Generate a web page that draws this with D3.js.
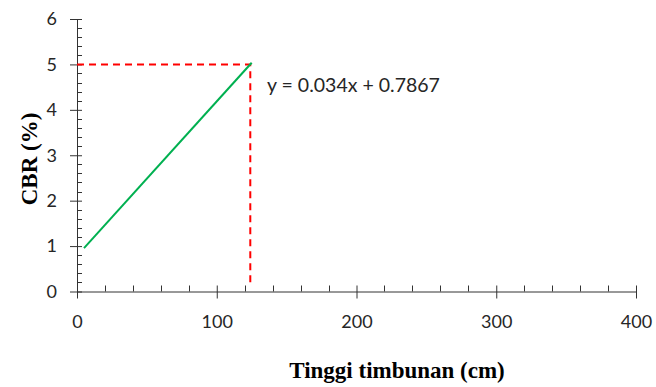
<!DOCTYPE html>
<html>
<head>
<meta charset="utf-8">
<script src="https://cdn.jsdelivr.net/npm/d3@7"></script>
<style>
  body { margin: 0; background: #fff; }
  .tick text { font-family: Lato, "Open Sans", sans-serif; font-size: 18px; fill: #262626; }
</style>
</head>
<body>
<div id="chart"></div>
<script>
// trendline endpoints (x = tinggi timbunan, y = CBR)
var lineX = [5, 125];
var slope = 0.034, intercept = 0.7867;
var targetCBR = 5;
var targetX = 124;
var xTicks = [0, 100, 200, 300, 400];
var yTicks = [0, 1, 2, 3, 4, 5, 6];
var eqLabel = "y = 0.034x + 0.7867";

var width = 656, height = 387;
var margin = {top: 19, left: 77, right: 20, bottom: 95};

var svg = d3.select("#chart").append("svg")
    .attr("width", width)
    .attr("height", height);

var x = d3.scaleLinear().domain([0, 400]).range([margin.left, 636]);
var y = d3.scaleLinear().domain([0, 6]).range([291.5, margin.top]);

// minor ticks
var xMinor = d3.range(0, 401, 20).filter(function(d){ return d % 100 !== 0; });
var yMinor = d3.range(0, 6.01, 0.2).filter(function(d){ return Math.abs(d - Math.round(d)) > 0.01; });

svg.append("g")
    .selectAll("line")
    .data(xMinor)
    .enter().append("line")
    .attr("x1", function(d){ return Math.round(x(d)) + 0.5; })
    .attr("x2", function(d){ return Math.round(x(d)) + 0.5; })
    .attr("y1", y(0) - 6)
    .attr("y2", y(0))
    .attr("stroke", "#333");

svg.append("g")
    .selectAll("line")
    .data(yMinor)
    .enter().append("line")
    .attr("y1", function(d){ return Math.round(y(d)) + 0.5; })
    .attr("y2", function(d){ return Math.round(y(d)) + 0.5; })
    .attr("x1", x(0))
    .attr("x2", x(0) + 5)
    .attr("stroke", "#333");

// x axis: major ticks cross the line
var xAxis = svg.append("g")
    .attr("transform", "translate(0," + y(0) + ")")
    .call(d3.axisBottom(x).tickValues(xTicks).tickFormat(d3.format("d")).tickSize(7).tickSizeOuter(0).tickPadding(17));
xAxis.selectAll(".tick line").attr("y1", -6).attr("stroke", "#333");
xAxis.select(".domain").attr("stroke", "#333");

var yAxis = svg.append("g")
    .attr("transform", "translate(" + x(0) + ",0)")
    .call(d3.axisLeft(y).tickValues(yTicks).tickFormat(d3.format("d")).tickSize(7).tickSizeOuter(0).tickPadding(13));
yAxis.selectAll(".tick line").attr("x1", 5).attr("stroke", "#333");
yAxis.select(".domain").attr("stroke", "#333");
yAxis.select(".domain").attr("d", "M0.5," + y(6) + "V" + y(0));

// red dashed guide lines
svg.append("path")
    .attr("d", d3.line()([[x(0), y(targetCBR)], [x(targetX), y(targetCBR)], [x(targetX), y(0) - 6]]))
    .attr("fill", "none")
    .attr("stroke", "#ff0000")
    .attr("stroke-width", 2)
    .attr("stroke-dasharray", "7,5");

// green trendline
svg.append("path")
    .datum(lineX)
    .attr("d", d3.line()
        .x(function(d){ return x(d); })
        .y(function(d){ return y(slope * d + intercept); }))
    .attr("fill", "none")
    .attr("stroke", "#00b050")
    .attr("stroke-width", 2);

svg.append("text")
    .attr("x", 267)
    .attr("y", 92)
    .style("font-family", "Lato, 'Open Sans', sans-serif")
    .style("font-size", "19.5px")
    .attr("fill", "#262626")
    .text(eqLabel);

// axis titles
svg.append("text")
    .attr("transform", "translate(37,159) rotate(-90)")
    .attr("text-anchor", "middle")
    .style("font-family", "'Liberation Serif', 'Times New Roman', serif")
    .style("font-weight", "bold")
    .style("font-size", "23px")
    .text("CBR (%)");

svg.append("text")
    .attr("x", 397)
    .attr("y", 378)
    .attr("text-anchor", "middle")
    .style("font-family", "'Liberation Serif', 'Times New Roman', serif")
    .style("font-weight", "bold")
    .style("font-size", "23px")
    .text("Tinggi timbunan (cm)");
</script>
</body>
</html>
